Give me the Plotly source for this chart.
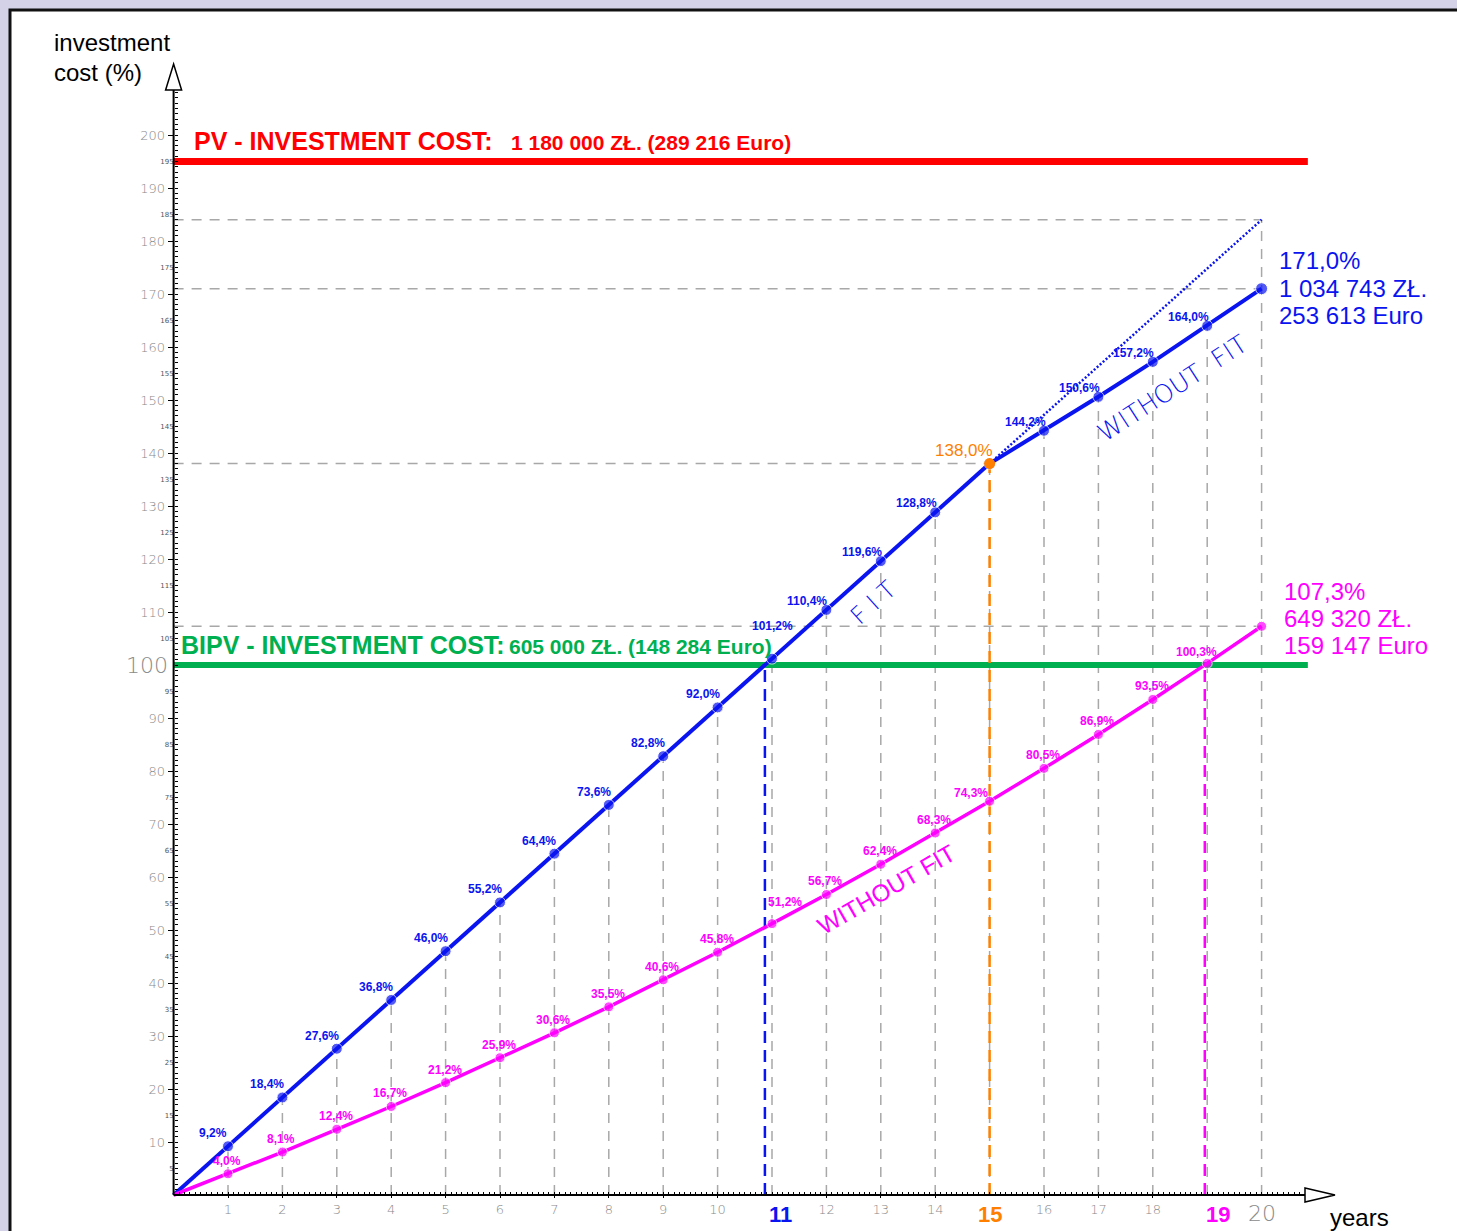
import numpy as np
import plotly.graph_objects as go

# ---------------- data ----------------
years = list(range(0, 21))
fit_years = list(range(0, 16))
fit_values = [0, 9.2, 18.4, 27.6, 36.8, 46.0, 55.2, 64.4, 73.6, 82.8, 92.0,
              101.2, 110.4, 119.6, 128.8, 138.0]
pv_nofit_years = [15, 16, 17, 18, 19, 20]
pv_nofit_values = [138.0, 144.2, 150.6, 157.2, 164.0, 171.0]
fit_ext_years = [15, 16, 17, 18, 19, 20]
fit_ext_values = [138.0, 147.2, 156.4, 165.6, 174.8, 184.0]
bipv_values = [0, 4.0, 8.1, 12.4, 16.7, 21.2, 25.9, 30.6, 35.5, 40.6, 45.8,
               51.2, 56.7, 62.4, 68.3, 74.3, 80.5, 86.9, 93.5, 100.3, 107.3]
pv_cost_pct = 195
bipv_cost_pct = 100
fit_end_year = 15
x_small_ticks = [1, 2, 3, 4, 5, 6, 7, 8, 9, 10, 12, 13, 14, 16, 17, 18]
y_major_ticks = [v for v in range(10, 201, 10)]
y_minor_labels = [v for v in range(5, 200, 10)]

pv_text = ["171,0%", "1 034 743 ZŁ.", "253 613 Euro"]
bipv_text = ["107,3%", "649 320 ZŁ.", "159 147 Euro"]

# ---------------- geometry (pixel mapping) ----------------
W, H = 1457, 1231
PX_X0, PPX = 173.6, 54.4      # px of year 0, px per year
PX_Y0, PPY = 1195.0, 5.3      # px of 0 %, px per %
x_range = [-PX_X0 / PPX, (W - PX_X0) / PPX]
y_range = [-(H - PX_Y0) / PPY, PX_Y0 / PPY]


def px2x(px):
    return (px - PX_X0) / PPX


def px2y(py):
    return (PX_Y0 - py) / PPY


BLUE = "#0a14f0"
MAG = "#ff00ff"
GREEN = "#00b050"
RED = "#ff0000"
ORANGE = "#ff8000"
GREY = "#a8a8a8"
TICKGREY = "#8a8a8a"
BG = "#d3d2e6"
THIN = "DejaVu Sans"
ARIAL = "Liberation Sans, Arial, sans-serif"

fig = go.Figure()

# grey dashed verticals up to the upper (blue) curve
upper = {y: v for y, v in zip(fit_years, fit_values)}
upper.update({y: v for y, v in zip(pv_nofit_years, pv_nofit_values)})
upper[20] = fit_ext_values[-1]
vx, vy = [], []
for yr in range(1, 21):
    vx += [yr, yr, None]
    vy += [0, upper[yr], None]
fig.add_trace(go.Scatter(x=vx, y=vy, mode="lines", hoverinfo="skip",
                         line=dict(color=GREY, width=1.5, dash="10px,8px")))

# grey dashed horizontals
hx, hy = [], []
for lvl, xend in [(fit_ext_values[-1], 20), (pv_nofit_values[-1], 20),
                  (fit_values[-1], fit_end_year), (bipv_values[-1], 20),
                  (bipv_cost_pct, 20.85)]:
    hx += [0, xend, None]
    hy += [lvl, lvl, None]
fig.add_trace(go.Scatter(x=hx, y=hy, mode="lines", hoverinfo="skip",
                         line=dict(color=GREY, width=1.5, dash="10px,8px")))

# investment cost lines
fig.add_trace(go.Scatter(x=[0, 20.85], y=[pv_cost_pct, pv_cost_pct], mode="lines",
                         line=dict(color=RED, width=7)))
fig.add_trace(go.Scatter(x=[0, 20.85], y=[bipv_cost_pct, bipv_cost_pct], mode="lines",
                         line=dict(color=GREEN, width=6)))

# break-even verticals
be_fit = float(np.interp(bipv_cost_pct, fit_values, fit_years))
be_bipv = float(np.interp(bipv_cost_pct, bipv_values, years))
fig.add_trace(go.Scatter(x=[be_fit, be_fit], y=[0, bipv_cost_pct], mode="lines",
                         line=dict(color=BLUE, width=2.5, dash="12px,7px")))
fig.add_trace(go.Scatter(x=[fit_end_year, fit_end_year], y=[0, fit_values[-1]], mode="lines",
                         line=dict(color=ORANGE, width=2.5, dash="12px,7px")))
fig.add_trace(go.Scatter(x=[be_bipv, be_bipv], y=[0, bipv_cost_pct], mode="lines",
                         line=dict(color=MAG, width=2.5, dash="12px,7px")))

# dotted FIT continuation
fig.add_trace(go.Scatter(x=fit_ext_years, y=fit_ext_values, mode="lines",
                         line=dict(color=BLUE, width=2.5, dash="2px,2px")))

# series
fig.add_trace(go.Scatter(x=fit_years, y=fit_values, mode="lines+markers",
                         line=dict(color=BLUE, width=4),
                         marker=dict(size=[0] + [11] * 15, color=BLUE)))
fig.add_trace(go.Scatter(x=pv_nofit_years, y=pv_nofit_values, mode="lines+markers",
                         line=dict(color=BLUE, width=4),
                         marker=dict(size=[0, 11, 11, 11, 11, 12], color=BLUE)))
fig.add_trace(go.Scatter(x=years, y=bipv_values, mode="lines+markers",
                         line=dict(color=MAG, width=3.5),
                         marker=dict(size=[0] + [10] * 20, color=MAG)))
fig.add_trace(go.Scatter(x=[fit_end_year], y=[fit_values[-1]], mode="markers",
                         marker=dict(size=11, color=ORANGE)))

# invisible trace for the secondary label axis
fig.add_trace(go.Scatter(x=[None], y=[None], yaxis="y2", showlegend=False))

ann = []


def fmt(v):
    return f"{v:.1f}".replace(".", ",") + "%"


# point labels
blue_pts = list(zip(fit_years[1:-1], fit_values[1:-1])) + list(zip(pv_nofit_years[1:-1], pv_nofit_values[1:-1]))
for yr, v in blue_pts:
    if yr <= 10:
        dx, dy = -15, 13
    elif yr == 11:
        dx, dy = 0, 33
    else:
        dx, dy = -19, 9
    ann.append(dict(x=yr, y=v, text=fmt(v), showarrow=False, xshift=dx, yshift=dy,
                    font=dict(family=ARIAL, size=12, color=BLUE, weight="bold")))
for yr, v in zip(years[1:-1], bipv_values[1:-1]):
    dx, dy = -1, 13
    if yr == 11:
        dx, dy = 13, 22
    elif yr == 15:
        dx, dy = -19, 8
    elif yr == 19:
        dx, dy = -11, 11
    ann.append(dict(x=yr, y=v, text=fmt(v), showarrow=False, xshift=dx, yshift=dy,
                    font=dict(family=ARIAL, size=12, color=MAG, weight="bold")))

ann.append(dict(x=fit_end_year, y=fit_values[-1], text=fmt(fit_values[-1]), showarrow=False,
                xshift=-26, yshift=13, font=dict(family=ARIAL, size=17, color=ORANGE)))

# end labels
for t, py in zip(pv_text, [260, 288, 315]):
    ann.append(dict(x=px2x(1277), y=px2y(py), text=t, showarrow=False, xanchor="left",
                    font=dict(family=ARIAL, size=24, color=BLUE)))
for t, py in zip(bipv_text, [591, 618, 645]):
    ann.append(dict(x=px2x(1282), y=px2y(py), text=t, showarrow=False, xanchor="left",
                    font=dict(family=ARIAL, size=24, color=MAG)))

# cost titles
ann.append(dict(x=px2x(192), y=px2y(141), text="PV - INVESTMENT COST:", showarrow=False,
                xanchor="left", font=dict(family=ARIAL, size=25, color=RED, weight="bold")))
ann.append(dict(x=px2x(509), y=px2y(142), text="1 180 000 ZŁ. (289 216 Euro)", showarrow=False,
                xanchor="left", font=dict(family=ARIAL, size=21, color=RED, weight="bold")))
ann.append(dict(x=px2x(179), y=px2y(645), text="BIPV - INVESTMENT COST:", showarrow=False,
                xanchor="left", font=dict(family=ARIAL, size=25, color=GREEN, weight="bold")))
ann.append(dict(x=px2x(507), y=px2y(646), text="605 000 ZŁ. (148 284 Euro)", showarrow=False,
                xanchor="left", font=dict(family=ARIAL, size=21, color=GREEN, weight="bold")))

# rotated labels
ann.append(dict(x=px2x(873), y=px2y(603), text="F I T", showarrow=False, textangle=-42,
                font=dict(family=THIN, size=24, color=BLUE, weight=200)))
ann.append(dict(x=px2x(1172), y=px2y(388), text="WITHOUT  FIT", showarrow=False, textangle=-33,
                font=dict(family=THIN, size=25, color=BLUE, weight=200)))
ann.append(dict(x=px2x(886), y=px2y(889), text="WITHOUT FIT", showarrow=False, textangle=-30,
                font=dict(family=ARIAL, size=24, color=MAG)))

# axis titles
ann.append(dict(x=px2x(52), y=px2y(42), text="investment", showarrow=False, xanchor="left",
                font=dict(family=ARIAL, size=24, color="black")))
ann.append(dict(x=px2x(52), y=px2y(72), text="cost (%)", showarrow=False, xanchor="left",
                font=dict(family=ARIAL, size=24, color="black")))
ann.append(dict(x=px2x(1328), y=px2y(1217), text="years", showarrow=False, xanchor="left",
                font=dict(family=ARIAL, size=24, color="black")))

# special tick labels
ann.append(dict(x=0, y=bipv_cost_pct, text="100", showarrow=False, xanchor="right", xshift=-4,
                font=dict(family=THIN, size=22, color=TICKGREY, weight=200)))
ann.append(dict(x=11, y=px2y(1214), text="11", showarrow=False, xshift=8,
                font=dict(family=ARIAL, size=22, color=BLUE, weight="bold")))
ann.append(dict(x=15, y=px2y(1214), text="15", showarrow=False,
                font=dict(family=ARIAL, size=22, color=ORANGE, weight="bold")))
ann.append(dict(x=19, y=px2y(1214), text="19", showarrow=False, xshift=11,
                font=dict(family=ARIAL, size=22, color=MAG, weight="bold")))
ann.append(dict(x=20, y=px2y(1213), text="20", showarrow=False,
                font=dict(family=THIN, size=22, color=TICKGREY, weight=200)))

# axes drawn as shapes with arrows
shapes = [
    dict(type="rect", xref="paper", yref="paper", x0=10 / W, x1=1.02, y0=-0.02, y1=1 - 10 / H,
         fillcolor="white", line=dict(color="#111111", width=3), layer="below"),
    dict(type="line", x0=0, x1=0, y0=0, y1=px2y(90), line=dict(color="black", width=2)),
    dict(type="path", path=f"M {-8 / PPX},{px2y(90)} L 0,{px2y(64)} L {8 / PPX},{px2y(90)} Z",
         fillcolor="white", line=dict(color="black", width=1.5)),
    dict(type="line", x0=0, x1=px2x(1305), y0=0, y1=0, line=dict(color="black", width=2)),
    dict(type="path", path=f"M {px2x(1305)},{7 / PPY} L {px2x(1335)},0 L {px2x(1305)},{-7 / PPY} Z",
         fillcolor="white", line=dict(color="black", width=1.5)),
]

fig.update_layout(
    width=W, height=H,
    margin=dict(l=0, r=0, t=0, b=0, autoexpand=False),
    paper_bgcolor=BG,
    plot_bgcolor=BG,
    showlegend=False,
    annotations=ann,
    shapes=shapes,
    xaxis=dict(range=x_range, anchor="free",
               position=(0 - y_range[0]) / (y_range[1] - y_range[0]),
               showgrid=False, zeroline=False, showline=False,
               tickmode="array", tickvals=x_small_ticks, ticktext=[str(v) for v in x_small_ticks],
               ticks="outside", ticklen=2, tickcolor="black", tickwidth=1,
               tickfont=dict(family=THIN, size=13, color=TICKGREY, weight=200),
               minor=dict(tickmode="array", tickvals=[round(v, 2) for v in np.arange(0, 20.81, 0.1)],
                          ticks="inside", ticklen=3, tickcolor="black", tickwidth=1, showgrid=False)),
    yaxis=dict(range=y_range, anchor="free",
               position=(0 - x_range[0]) / (x_range[1] - x_range[0]),
               showgrid=False, zeroline=False, showline=False,
               tickmode="array", tickvals=y_major_ticks,
               ticktext=["" if v == 100 else str(v) for v in y_major_ticks],
               ticks="outside", ticklen=6, tickcolor="black", tickwidth=1,
               tickfont=dict(family=THIN, size=13, color=TICKGREY, weight=200),
               minor=dict(tickmode="array", tickvals=list(range(1, 209)),
                          ticks="inside", ticklen=3, tickcolor="black", tickwidth=1, showgrid=False)),
    yaxis2=dict(range=y_range, overlaying="y", anchor="free",
                position=(0 - x_range[0]) / (x_range[1] - x_range[0]), side="left",
                showgrid=False, zeroline=False, showline=False,
                tickmode="array", tickvals=y_minor_labels,
                ticktext=[str(v) for v in y_minor_labels], ticks="",
                tickfont=dict(family=THIN, size=7, color="#555555")),
)

fig.write_html("out.html",
               config={"displayModeBar": False},
               post_script="document.body.style.margin='0';document.body.style.overflow='hidden';"
                           f"document.body.style.background='{BG}';")
